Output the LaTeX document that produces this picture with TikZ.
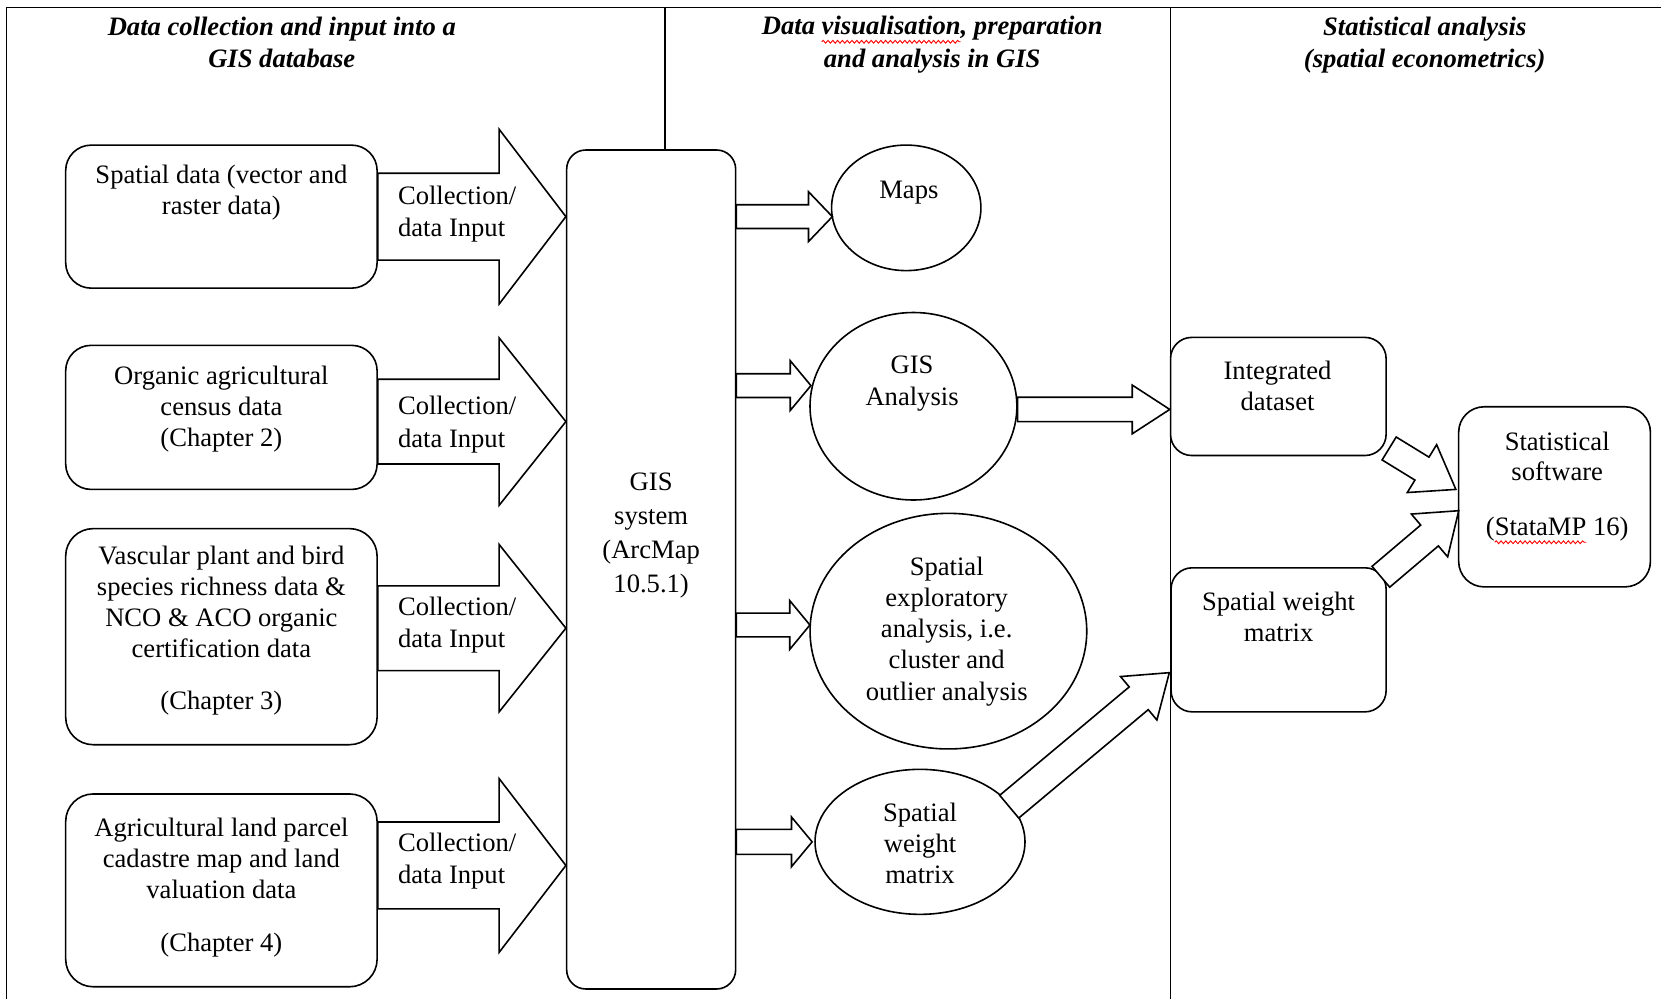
\documentclass[tikz,border=0pt]{standalone}
\usepackage{fontspec}
\setmainfont{Liberation Serif}
\usetikzlibrary{calc,shapes.geometric,decorations.pathmorphing}
\newsavebox\wavebox
\newcommand\redwave[1]{\sbox\wavebox{#1}\rlap{\usebox\wavebox}\tikz[baseline=0pt]{\useasboundingbox (0pt,0pt) rectangle (\wd\wavebox,0pt); \draw[red, line width=0.45pt, decorate, decoration={snake, amplitude=0.7pt, segment length=2.4pt}] (0pt,-3.4pt) -- (\wd\wavebox,-3.4pt);}}
\def\U{0.52966}
\newcommand\barrow[5]{%
 \draw[barr] let \p1=(#1), \p2=(#2),
   \n1={atan2(\y2-\y1,\x2-\x1)},
   \n2={veclen(\x2-\x1,\y2-\y1)},
   \n3={#3*\U pt}, \n4={#4*\U pt}, \n5={\n2-#5*\U pt} in
   ($(\p1)+(\n1+90:\n3)$) -- ($(\p1)+(\n1:\n5)+(\n1+90:\n3)$) --
   ($(\p1)+(\n1:\n5)+(\n1+90:\n4)$) -- (\p2) --
   ($(\p1)+(\n1:\n5)+(\n1-90:\n4)$) -- ($(\p1)+(\n1:\n5)+(\n1-90:\n3)$) --
   ($(\p1)+(\n1-90:\n3)$) -- cycle;}
\tikzset{
  rbox/.style={draw, rectangle, rounded corners={#1*\U pt}, inner sep=0pt},
  sz/.style 2 args={minimum width={#1*\U pt}, minimum height={#2*\U pt}},
  ell/.style={draw, ellipse, inner sep=0pt},
  barr/.style={draw, fill=white, line join=miter},
  txt/.style={font=\fontsize{13.3pt}{15.6pt}\selectfont, align=center, inner sep=0pt},
  ttl/.style={font=\fontsize{13.3pt}{16.4pt}\selectfont\bfseries\itshape, align=center, inner sep=0pt},
  lbl/.style={font=\fontsize{13.3pt}{16.3pt}\selectfont, align=left, inner sep=0pt, anchor=west},
  frame/.style={draw, line width=0.8pt}
}
\begin{document}
\begin{tikzpicture}[x=0.52966pt, y=-0.52966pt, line width=0.8pt]
\useasboundingbox (0,0) rectangle (1568,943);

% boxes
\node[rbox=24, sz={294}{135}] (b1) at (209,204.5) {};
\node[rbox=24, sz={294}{136}] (b2) at (209,394) {};
\node[rbox=26, sz={294}{204}] (b3) at (209,601) {};
\node[rbox=26, sz={294}{182}] (b4) at (209,840.5) {};
\node[rbox=18, sz={159.5}{792}] (gis) at (614.7,537.6) {};
\node[ell, sz={141}{118.5}] (maps) at (855.5,196.2) {};
\node[ell, sz={195.3}{177}] (ga) at (862.3,383.5) {};
\node[ell, sz={261.2}{222.4}] (sea) at (895.3,595.8) {};
\node[ell, sz={198.2}{136.9}] (swe) at (868.5,794.7) {};
\node[rbox=20, sz={203.5}{111.5}] (int) at (1206.75,374.25) {};
\node[rbox=20, sz={203}{136}] (swb) at (1207,604) {};
\node[rbox=24, sz={181}{170}] (stat) at (1467.5,469) {};

% frame
\coordinate (ftl) at (6,7);
\coordinate (ftr) at (1568,7);
\coordinate (fbl) at (6,943);
\coordinate (d1) at (628,7);
\coordinate (d2) at (1105,7);
\coordinate (d2b) at (1105,943);
\draw[frame] (fbl) -- (ftl) -- (ftr);
\draw[frame] (d1) -- (d1 |- gis.north);
\draw[frame] (d2) -- (d2b);

% collection arrows
\coordinate (t2) at ($(b2.east)+(0,4)$);
\coordinate (t3) at ($(b3.east)+(0,-8)$);
\coordinate (t4) at ($(b4.east)+(0,-23.5)$);
\barrow{b1.east}{gis.west|-b1.east}{41}{82.5}{63}
\barrow{t2}{gis.west|-t2}{40}{79}{63}
\barrow{t3}{gis.west|-t3}{40}{79}{63}
\barrow{t4}{gis.west|-t4}{41}{82}{63}

% small arrows from GIS
\coordinate (tm) at ($(maps.west)+(1.5,8.3)$);
\coordinate (tg) at ($(ga.west)+(1.6,-19.5)$);
\coordinate (ts) at ($(sea.west)+(0.6,-5.8)$);
\coordinate (tw) at ($(swe.west)+(-2,0)$);
\barrow{gis.east|-tm}{tm}{11.2}{23.5}{22.5}
\barrow{gis.east|-tg}{tg}{11.2}{23.5}{19.5}
\barrow{gis.east|-ts}{ts}{11.2}{23}{19}
\barrow{gis.east|-tw}{tw}{11.8}{23.5}{19.5}

% GIS analysis -> integrated dataset
\coordinate (gae) at ($(ga.east)+(0,3)$);
\barrow{gae}{int.west|-gae}{11.5}{23}{35.4}

% spatial weight ellipse -> spatial weight box
\coordinate (swt) at ($(swe.center)+(84.2,-33.2)$);
\coordinate (swh) at ($(swb.west)+(-0.9,31)$);
\barrow{swt}{swh}{14}{26.75}{37}

% to statistical software
\coordinate (it) at ($(int.south east)+(2.1,-7.4)$);
\coordinate (ih) at ($(stat.west)+(-1.9,-7)$);
\barrow{it}{ih}{12.7}{26.5}{37.5}
\coordinate (st) at ($(swb.north east)+(-5.7,9.2)$);
\coordinate (sh) at ($(stat.west)+(0.8,13.1)$);
\barrow{st}{sh}{12.9}{26.5}{36}

% titles
\node[ttl] (h1) at (266,40) {Data collection and input into a\\GIS database};
\node[ttl] (h2) at (880,42.5) {Data \redwave{visualisation}, preparation\\and analysis in GIS};
\node[ttl] (h3) at (1345,42.5) {Statistical analysis\\(spatial econometrics)};

% texts
\node[txt] (b1t) at (209,181.5) {Spatial data (vector and\\raster data)};
\node[txt] (b2t) at (209,386) {Organic agricultural\\census data\\(Chapter 2)};
\node[txt] (b3t) at (209,595) {Vascular plant and bird\\species richness data \&\\NCO \& ACO organic\\certification data\\[10.2pt](Chapter 3)};
\node[txt] (b4t) at (209,838) {Agricultural land parcel\\cadastre map and land\\valuation data\\[10.9pt](Chapter 4)};
\node[lbl] (c1) at (375,202) {Collection/\\data Input};
\node[lbl] (c2) at (375,401) {Collection/\\data Input};
\node[lbl] (c3) at (375,590) {Collection/\\data Input};
\node[lbl] (c4) at (375,813) {Collection/\\data Input};
\node[txt, font=\fontsize{13.3pt}{17.1pt}\selectfont] (gist) at (614.7,505.5) {GIS\\system\\(ArcMap\\10.5.1)};
\node[txt] (mapst) at (858,182) {Maps};
\node[txt] (gat) at (861,362) {GIS\\Analysis};
\node[txt] (seat) at (893.7,596) {Spatial\\exploratory\\analysis, i.e.\\cluster and\\outlier analysis};
\node[txt] (swet) at (868.5,796) {Spatial\\weight\\matrix};
\node[txt] (intt) at (1206,364.5) {Integrated\\dataset};
\node[txt] (swbt) at (1207,582) {Spatial weight\\matrix};
\node[txt, font=\fontsize{13.3pt}{14.8pt}\selectfont] (statt) at (1470,459.5) {Statistical\\software\\[12.7pt](\redwave{StataMP} 16)};
\end{tikzpicture}
\end{document}
